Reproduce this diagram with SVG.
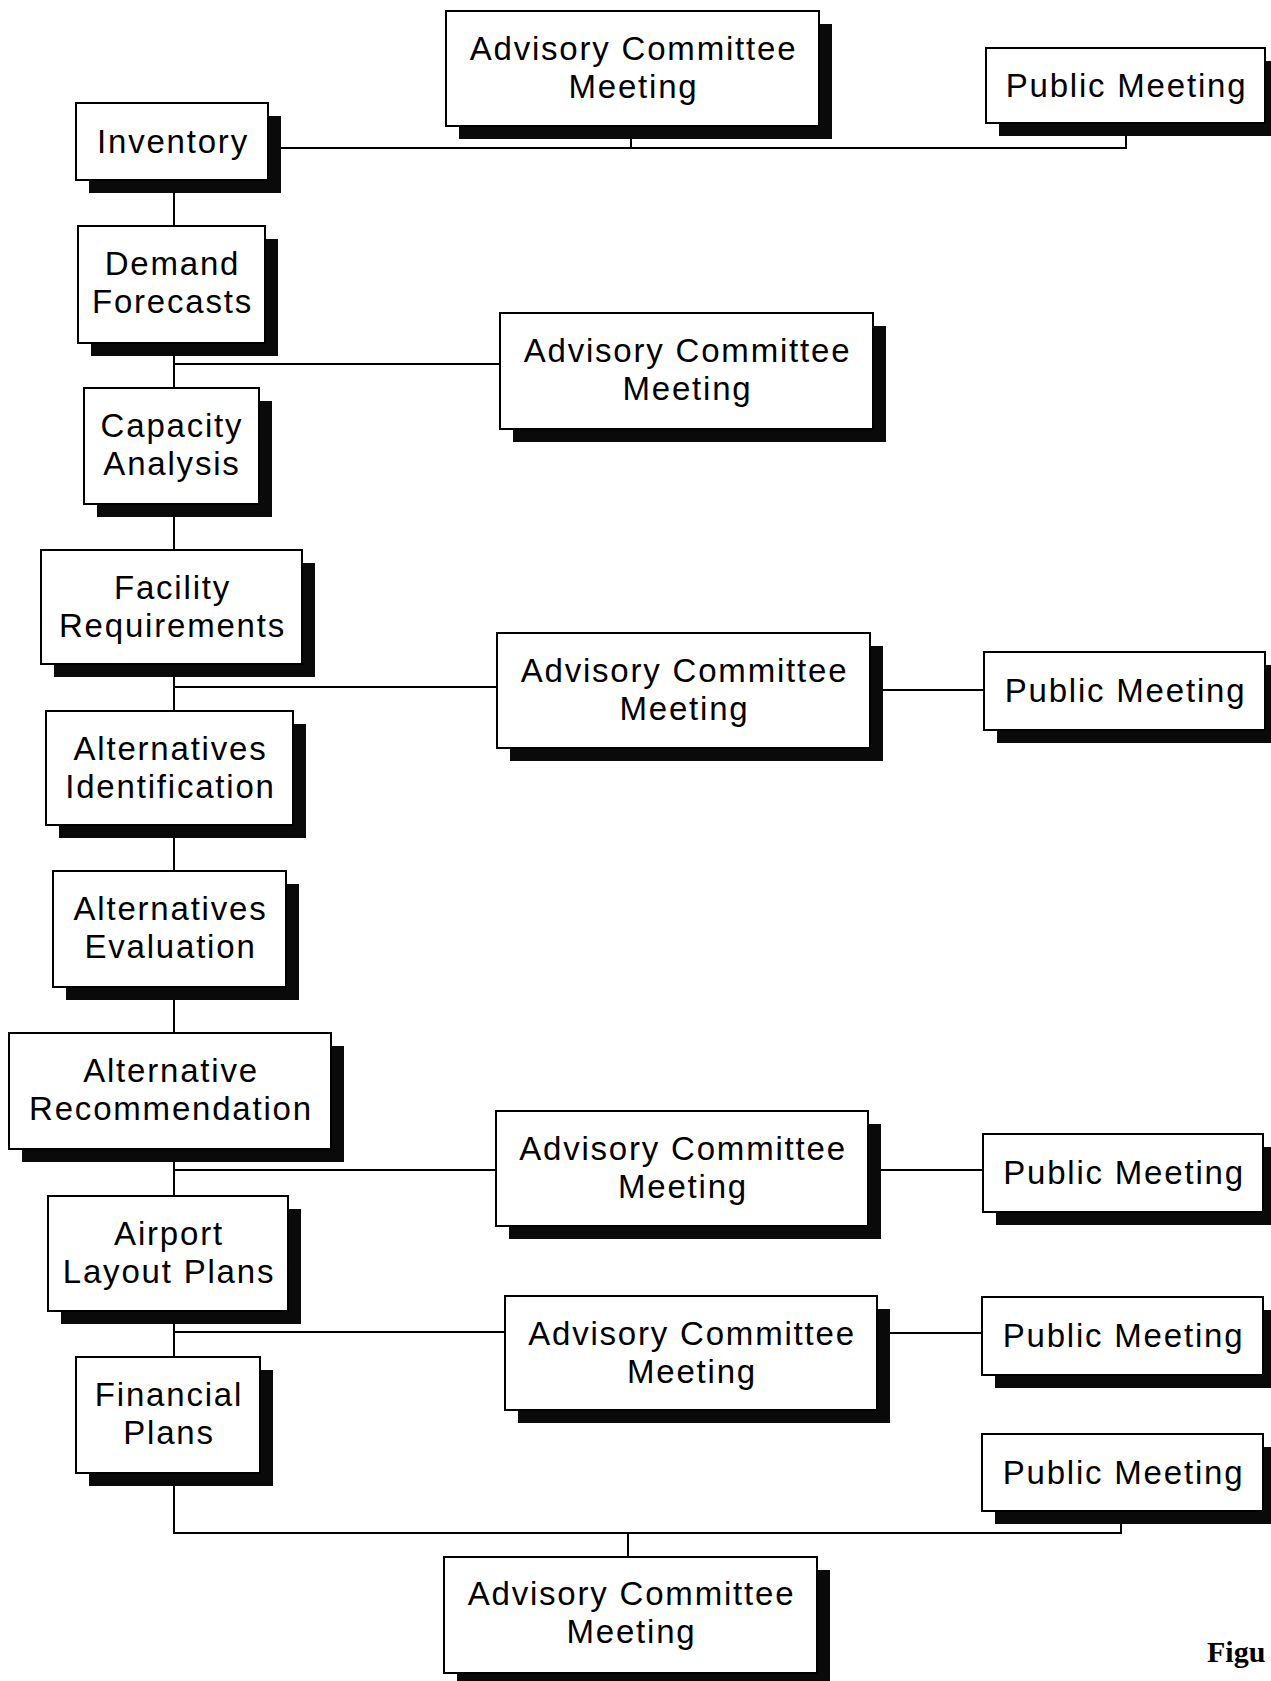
<svg xmlns="http://www.w3.org/2000/svg" width="1271" height="1681" viewBox="0 0 1271 1681">
<style>
.box{fill:#fff;stroke:#000;stroke-width:2}
.sh{fill:#0a0a0a}
.t{font-family:"Liberation Sans",Arial,sans-serif;font-size:33px;letter-spacing:1.8px;fill:#000;text-anchor:middle}
.c{fill:none;stroke:#000;stroke-width:2}
.cap{font-family:"Liberation Serif",serif;font-weight:bold;font-size:30px;fill:#000}
</style>
<rect width="1271" height="1681" fill="#fff"/>
<g id="connectors">
<polyline class="c" points="174,180 174,1533 1121,1533 1121,1511"/>
<line class="c" x1="628" y1="1533" x2="628" y2="1557"/>
<polyline class="c" points="268,148 1126,148 1126,123"/>
<line class="c" x1="631" y1="126" x2="631" y2="148"/>
<line class="c" x1="174" y1="364" x2="500" y2="364"/>
<line class="c" x1="174" y1="687" x2="497" y2="687"/>
<line class="c" x1="870" y1="690" x2="984" y2="690"/>
<line class="c" x1="174" y1="1170" x2="496" y2="1170"/>
<line class="c" x1="868" y1="1170" x2="983" y2="1170"/>
<line class="c" x1="174" y1="1332" x2="505" y2="1332"/>
<line class="c" x1="877" y1="1333" x2="982" y2="1333"/>
</g>
<g id="inventory"><rect class="sh" x="89" y="116" width="192" height="77"/><rect class="box" x="76" y="103" width="192" height="77"/><text class="t" x="173" y="153">Inventory</text></g>
<g id="demand-forecasts"><rect class="sh" x="91" y="239" width="187" height="117"/><rect class="box" x="78" y="226" width="187" height="117"/><text class="t" x="172.5" y="275">Demand</text><text class="t" x="172.5" y="312.5">Forecasts</text></g>
<g id="capacity-analysis"><rect class="sh" x="97" y="401" width="175" height="116"/><rect class="box" x="84" y="388" width="175" height="116"/><text class="t" x="172" y="437">Capacity</text><text class="t" x="172" y="474.5">Analysis</text></g>
<g id="facility-requirements"><rect class="sh" x="54" y="563" width="261" height="114"/><rect class="box" x="41" y="550" width="261" height="114"/><text class="t" x="172.5" y="599">Facility</text><text class="t" x="172.5" y="636.5">Requirements</text></g>
<g id="alternatives-identification"><rect class="sh" x="59" y="724" width="247" height="114"/><rect class="box" x="46" y="711" width="247" height="114"/><text class="t" x="170.5" y="760">Alternatives</text><text class="t" x="170.5" y="797.5">Identification</text></g>
<g id="alternatives-evaluation"><rect class="sh" x="66" y="884" width="233" height="116"/><rect class="box" x="53" y="871" width="233" height="116"/><text class="t" x="170.5" y="920">Alternatives</text><text class="t" x="170.5" y="957.5">Evaluation</text></g>
<g id="alternative-recommendation"><rect class="sh" x="22" y="1046" width="322" height="116"/><rect class="box" x="9" y="1033" width="322" height="116"/><text class="t" x="171" y="1082">Alternative</text><text class="t" x="171" y="1119.5">Recommendation</text></g>
<g id="airport-layout-plans"><rect class="sh" x="61" y="1209" width="240" height="115"/><rect class="box" x="48" y="1196" width="240" height="115"/><text class="t" x="169" y="1245">Airport</text><text class="t" x="169" y="1282.5">Layout Plans</text></g>
<g id="financial-plans"><rect class="sh" x="89" y="1370" width="184" height="116"/><rect class="box" x="76" y="1357" width="184" height="116"/><text class="t" x="169" y="1406">Financial</text><text class="t" x="169" y="1443.5">Plans</text></g>
<g id="acm-1"><rect class="sh" x="459" y="24" width="373" height="115"/><rect class="box" x="446" y="11" width="373" height="115"/><text class="t" x="633.5" y="60">Advisory Committee</text><text class="t" x="633.5" y="97.5">Meeting</text></g>
<g id="pm-1"><rect class="sh" x="999" y="61" width="279" height="75"/><rect class="box" x="986" y="48" width="279" height="75"/><text class="t" x="1126.5" y="97">Public Meeting</text></g>
<g id="acm-2"><rect class="sh" x="513" y="326" width="373" height="116"/><rect class="box" x="500" y="313" width="373" height="116"/><text class="t" x="687.5" y="362">Advisory Committee</text><text class="t" x="687.5" y="399.5">Meeting</text></g>
<g id="acm-3"><rect class="sh" x="510" y="646" width="373" height="115"/><rect class="box" x="497" y="633" width="373" height="115"/><text class="t" x="684.5" y="682">Advisory Committee</text><text class="t" x="684.5" y="719.5">Meeting</text></g>
<g id="pm-2"><rect class="sh" x="997" y="665" width="281" height="78"/><rect class="box" x="984" y="652" width="281" height="78"/><text class="t" x="1125.5" y="702">Public Meeting</text></g>
<g id="acm-4"><rect class="sh" x="509" y="1124" width="372" height="115"/><rect class="box" x="496" y="1111" width="372" height="115"/><text class="t" x="683" y="1160">Advisory Committee</text><text class="t" x="683" y="1197.5">Meeting</text></g>
<g id="pm-3"><rect class="sh" x="996" y="1147" width="280" height="78"/><rect class="box" x="983" y="1134" width="280" height="78"/><text class="t" x="1124" y="1184">Public Meeting</text></g>
<g id="acm-5"><rect class="sh" x="518" y="1309" width="372" height="114"/><rect class="box" x="505" y="1296" width="372" height="114"/><text class="t" x="692" y="1345">Advisory Committee</text><text class="t" x="692" y="1382.5">Meeting</text></g>
<g id="pm-4"><rect class="sh" x="995" y="1310" width="281" height="78"/><rect class="box" x="982" y="1297" width="281" height="78"/><text class="t" x="1123.5" y="1347">Public Meeting</text></g>
<g id="pm-5"><rect class="sh" x="995" y="1447" width="281" height="77"/><rect class="box" x="982" y="1434" width="281" height="77"/><text class="t" x="1123.5" y="1484">Public Meeting</text></g>
<g id="acm-6"><rect class="sh" x="457" y="1570" width="373" height="116"/><rect class="box" x="444" y="1557" width="373" height="116"/><text class="t" x="631.5" y="1605">Advisory Committee</text><text class="t" x="631.5" y="1642.5">Meeting</text></g>
<text class="cap" x="1207" y="1662">Figu</text>
</svg>
